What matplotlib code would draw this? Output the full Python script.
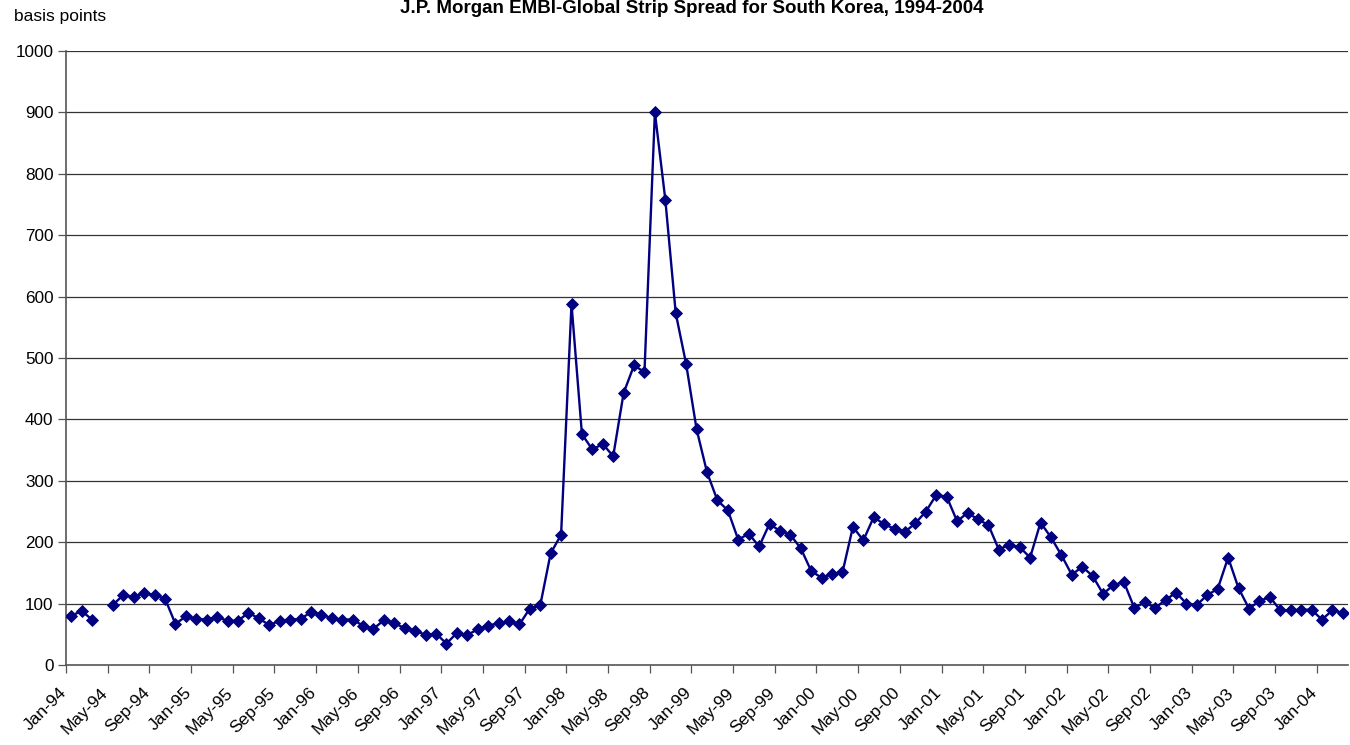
import numpy as np
import matplotlib
matplotlib.use("Agg")
import matplotlib.pyplot as plt

plt.rcParams['font.family'] = ['Liberation Sans', 'DejaVu Sans']

# monthly strip spread, Jan-94 .. Mar-04 (Apr-94 missing)
spread = [
    80, 88, 74, np.nan, 98, 114, 111, 117, 114, 108, 67, 79,      # 1994
    75, 74, 78, 72, 72, 85, 76, 65, 72, 74, 75, 86,               # 1995
    82, 76, 74, 74, 64, 59, 73, 68, 60, 56, 49, 51,               # 1996
    35, 52, 49, 58, 64, 68, 71, 66, 92, 97, 182, 212,             # 1997
    588, 376, 351, 360, 340, 443, 488, 477, 900, 758, 573, 490,   # 1998
    384, 314, 268, 252, 204, 214, 193, 230, 218, 212, 190, 153,   # 1999
    142, 148, 151, 225, 203, 241, 229, 222, 217, 231, 250, 277,   # 2000
    274, 234, 248, 237, 228, 188, 196, 192, 175, 232, 208, 179,   # 2001
    147, 160, 145, 116, 130, 135, 93, 102, 93, 106, 118, 100,     # 2002
    98, 114, 124, 175, 125, 92, 104, 111, 89, 89, 90, 90,         # 2003
    74, 89, 85,                                                   # 2004
]
months = ["Jan", "Feb", "Mar", "Apr", "May", "Jun",
          "Jul", "Aug", "Sep", "Oct", "Nov", "Dec"]
years = list(range(94, 100)) + list(range(0, 5))
labels = [f"{m}-{y:02d}" for y in years for m in months][:len(spread)]

x = np.arange(len(spread))

fig = plt.figure(figsize=(13.5, 7.45), dpi=100)
ax = fig.add_axes([66 / 1350, 1 - 665 / 745, 1282 / 1350, 614 / 745])

for v in range(100, 1001, 100):
    ax.axhline(v, color="#333333", linewidth=0.9, zorder=1)

ax.plot(x, spread, color="#000080", linewidth=1.7, marker="D",
        markersize=6.3, markeredgewidth=0.6, zorder=3)

ax.set_xlim(-0.5, len(spread) - 0.5)
ax.set_ylim(0, 1000)
ax.set_yticks(range(0, 1001, 100))
ax.tick_params(axis="y", labelsize=12.3, direction="out", length=6,
               width=0.9, color="#555555", pad=3)

ax.set_xticks(np.arange(-0.5, len(spread) - 1, 4))
ax.set_xticklabels([])
ax.tick_params(axis="x", direction="out", length=6, width=0.9, color="#555555")
for i in range(0, len(spread), 4):
    ax.text(i - 1.2, -33, labels[i], rotation=45, ha="right", va="top",
            rotation_mode="anchor", fontsize=12.5)

for s in ["top", "right"]:
    ax.spines[s].set_visible(False)
for s in ["left", "bottom"]:
    ax.spines[s].set_color("#555555")
    ax.spines[s].set_linewidth(1.2)

fig.text(692 / 1350, 1 - 13 / 745,
         "J.P. Morgan EMBI-Global Strip Spread for South Korea, 1994-2004",
         ha="center", va="baseline", fontsize=13.5, fontweight="bold")
fig.text(14 / 1350, 1 - 17 / 745, "basis points", ha="left", va="center",
         fontsize=12.5)

fig.savefig("out.png", dpi=100)
